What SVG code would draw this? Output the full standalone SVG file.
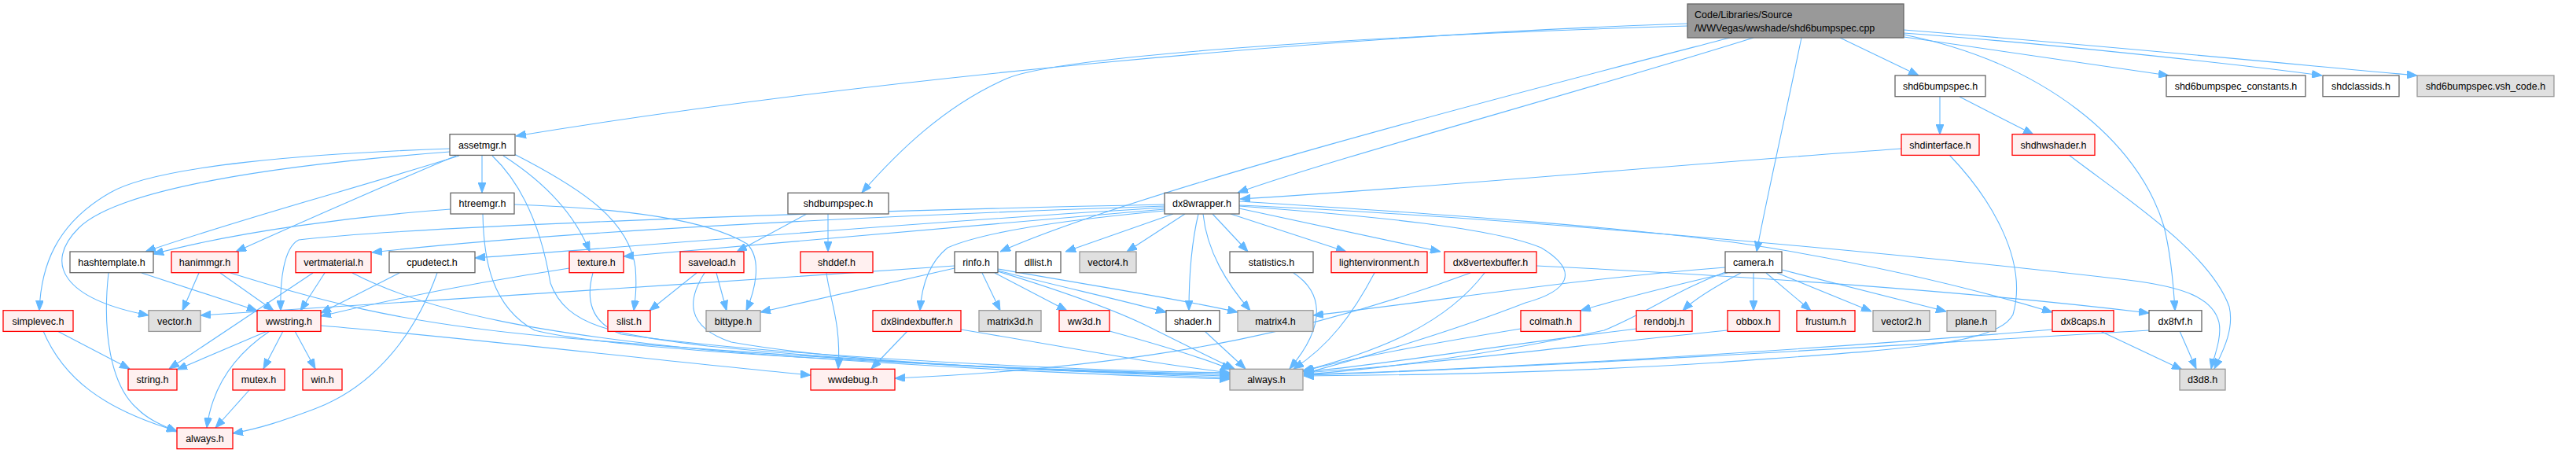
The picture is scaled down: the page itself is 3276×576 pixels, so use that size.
<svg xmlns="http://www.w3.org/2000/svg" width="3276" height="576" viewBox="0 0 3276 576">
<defs>
<marker id="a" markerWidth="13" markerHeight="10" refX="13" refY="5" orient="auto" markerUnits="userSpaceOnUse"><path d="M0,0 L13,5 L0,10 z" fill="#63b8ff" stroke="#63b8ff" stroke-width="1"/></marker>
<style>
rect{stroke-width:1.3}
.w rect{fill:#fff;stroke:#666}
.g rect{fill:#e0e0e0;stroke:#999}
.r rect{fill:#fff0f0;stroke:#f00}
.m rect{fill:#999;stroke:#666}
text{font-family:"Liberation Sans",Arial,sans-serif;font-size:12.5px;fill:#000;text-anchor:middle}
.m text{text-anchor:start}
#edges path{fill:none;stroke:#63b8ff;stroke-width:1.1;marker-end:url(#a)}
</style>
</defs>
<rect width="3276" height="576" fill="#fff"/>
<g id="edges">
<path d="M2146,30 C1700,45 1100,100 656,173"/>
<path d="M2146,33 C1750,45 1350,70 1280,100 C1200,135 1140,195 1096,245"/>
<path d="M2200,48 C2000,100 1450,240 1272,320"/>
<path d="M2230,48 C2000,120 1700,200 1574,245"/>
<path d="M2291,48 C2270,150 2245,260 2234,320"/>
<path d="M2340,48 L2440,96"/>
<path d="M2421,47 C2550,65 2680,85 2758,96"/>
<path d="M2421,42 C2600,55 2850,82 2953,96"/>
<path d="M2421,38 C2700,60 2950,85 3074,96"/>
<path d="M2421,44 C2600,80 2720,180 2752,288 C2760,320 2764,360 2766,395"/>
<path d="M2467,123 L2467,171"/>
<path d="M2492,123 L2586,171"/>
<path d="M2418,189 C2100,212 1800,240 1577,253"/>
<path d="M2479,197 C2530,250 2580,330 2560,400 C2540,440 2400,445 2184,461 C2000,473 1800,477 1658,478"/>
<path d="M2631,197 C2700,250 2810,320 2835,390 C2842,420 2825,450 2816,469"/>
<path d="M613,197 L613,245"/>
<path d="M572,189 C400,195 200,210 140,245 C70,285 52,340 50,395"/>
<path d="M572,193 C350,210 150,240 100,290 C55,335 80,380 189,401"/>
<path d="M584,198 C450,240 300,280 185,320"/>
<path d="M580,198 C480,240 400,275 300,320"/>
<path d="M640,198 C690,230 730,270 750,320"/>
<path d="M654,196 C740,240 800,280 808,340 C810,365 808,380 806,395"/>
<path d="M626,198 C670,240 690,300 700,360 C720,415 780,425 900,440 C1200,470 1450,475 1564,478"/>
<path d="M573,266 C450,275 300,295 195,323"/>
<path d="M614,272 C615,330 625,390 680,420 C800,450 1300,470 1564,476"/>
<path d="M654,260 C800,265 900,280 950,310 C970,330 960,370 949,395"/>
<path d="M1026,272 L937,320"/>
<path d="M1053,272 L1053,320"/>
<path d="M180,347 L327,395"/>
<path d="M138,347 C130,420 140,490 175,520 C190,535 210,542 225,549"/>
<path d="M253,347 L232,395"/>
<path d="M280,347 L348,395"/>
<path d="M293,347 C400,380 500,410 700,428 C1000,455 1400,475 1564,480"/>
<path d="M398,347 L215,469"/>
<path d="M413,347 L382,395"/>
<path d="M448,347 C550,400 700,425 900,445 C1200,470 1450,478 1564,482"/>
<path d="M508,347 L408,398"/>
<path d="M556,347 C530,420 480,490 400,520 C360,535 330,545 296,551"/>
<path d="M724,341 C600,360 500,380 408,402"/>
<path d="M754,347 C745,380 750,410 790,425 C1000,455 1400,472 1564,474"/>
<path d="M886,347 L826,395"/>
<path d="M911,347 L924,395"/>
<path d="M896,347 C875,380 870,415 930,435 C1100,465 1400,474 1564,476"/>
<path d="M1051,347 C1055,380 1070,410 1066,469"/>
<path d="M73,421 L165,469"/>
<path d="M55,421 C80,480 130,520 225,548"/>
<path d="M340,421 L225,470"/>
<path d="M343,421 C300,450 270,490 263,544"/>
<path d="M360,421 L335,469"/>
<path d="M375,421 L401,469"/>
<path d="M408,414 C600,430 850,460 1031,477"/>
<path d="M317,496 L274,544"/>
<path d="M1481,262 C1100,275 700,295 473,321"/>
<path d="M1481,264 C1200,280 850,310 604,328"/>
<path d="M1481,266 C1250,285 1000,310 793,326"/>
<path d="M1481,260 C1000,270 500,290 380,305 C360,315 356,360 357,395"/>
<path d="M1481,268 C1350,280 1250,295 1205,315 C1180,335 1172,365 1170,395"/>
<path d="M1492,272 L1355,320"/>
<path d="M1507,272 L1433,320"/>
<path d="M1524,272 C1515,310 1512,350 1512,395"/>
<path d="M1530,272 C1535,320 1560,360 1590,395"/>
<path d="M1542,272 L1587,320"/>
<path d="M1565,272 L1712,320"/>
<path d="M1576,265 L1832,320"/>
<path d="M1576,256 C1800,270 2100,290 2250,315 C2400,340 2520,370 2610,397"/>
<path d="M1576,261 C1900,275 2400,320 2706,356 C2780,365 2815,380 2822,410 C2826,430 2815,455 2812,469"/>
<path d="M1576,262 C1750,275 1900,290 1960,315 C2010,345 1995,370 1940,385 C1850,420 1750,450 1658,475"/>
<path d="M1214,338 C900,360 500,385 255,401"/>
<path d="M1214,341 L967,397"/>
<path d="M1249,347 L1272,395"/>
<path d="M1265,347 L1357,395"/>
<path d="M1269,344 C1350,365 1420,380 1483,397"/>
<path d="M1269,342 C1400,365 1500,380 1574,397"/>
<path d="M1269,345 C1350,370 1420,395 1460,415 C1500,435 1540,455 1570,469"/>
<path d="M1154,421 L1108,469"/>
<path d="M1222,419 C1350,440 1450,460 1564,474"/>
<path d="M1411,421 C1480,440 1530,455 1566,470"/>
<path d="M1532,421 L1584,469"/>
<path d="M1645,347 C1680,370 1690,410 1640,469"/>
<path d="M1748,347 C1720,400 1690,440 1645,469"/>
<path d="M1888,347 C1840,410 1760,445 1656,472"/>
<path d="M1870,347 C1700,410 1500,465 1138,481"/>
<path d="M1954,338 C2200,350 2500,370 2733,398"/>
<path d="M2194,340 C2000,355 1850,380 1670,401"/>
<path d="M2197,347 C2120,365 2060,380 2010,395"/>
<path d="M2214,347 C2180,365 2155,380 2140,395"/>
<path d="M2194,346 C2130,370 2100,395 2040,420 C1900,450 1750,470 1658,476"/>
<path d="M2230,347 L2230,395"/>
<path d="M2246,347 L2303,395"/>
<path d="M2260,347 L2380,396"/>
<path d="M2266,343 L2475,396"/>
<path d="M1934,418 C1800,440 1700,460 1658,472"/>
<path d="M2081,418 C1900,440 1750,465 1658,473"/>
<path d="M2197,420 C2000,440 1800,465 1658,474"/>
<path d="M2610,419 C2300,445 1900,470 1658,476"/>
<path d="M2671,421 L2775,470"/>
<path d="M2772,421 L2793,469"/>
<path d="M2733,420 C2400,440 1900,470 1658,477"/>
</g>
<g id="n_main" class="m"><rect x="2146" y="5" width="275" height="43"/><text x="2155" y="23">Code/Libraries/Source</text><text x="2155" y="40">/WWVegas/wwshade/shd6bumpspec.cpp</text></g>
<g id="n_shd6bumpspec_h" class="w"><rect x="2410" y="96" width="115" height="26.7"/><text x="2467.5" y="114">shd6bumpspec.h</text></g>
<g id="n_constants" class="w"><rect x="2755" y="96" width="177" height="26.7"/><text x="2843.5" y="114">shd6bumpspec_constants.h</text></g>
<g id="n_shdclassids" class="w"><rect x="2954" y="96" width="97" height="26.7"/><text x="3002.5" y="114">shdclassids.h</text></g>
<g id="n_vsh_code" class="g"><rect x="3074" y="96" width="174" height="26.7"/><text x="3161" y="114">shd6bumpspec.vsh_code.h</text></g>
<g id="n_assetmgr" class="w"><rect x="572" y="170.7" width="83" height="26.7"/><text x="613.5" y="188.7">assetmgr.h</text></g>
<g id="n_shdinterface" class="r"><rect x="2418" y="170.7" width="99" height="26.7"/><text x="2467.5" y="188.7">shdinterface.h</text></g>
<g id="n_shdhwshader" class="r"><rect x="2559" y="170.7" width="105" height="26.7"/><text x="2611.5" y="188.7">shdhwshader.h</text></g>
<g id="n_htreemgr" class="w"><rect x="573" y="245.3" width="81" height="26.7"/><text x="613.5" y="263.3">htreemgr.h</text></g>
<g id="n_shdbumpspec" class="w"><rect x="1002" y="245.3" width="128" height="26.7"/><text x="1066" y="263.3">shdbumpspec.h</text></g>
<g id="n_dx8wrapper" class="w"><rect x="1481" y="245.3" width="95" height="26.7"/><text x="1528.5" y="263.3">dx8wrapper.h</text></g>
<g id="n_hashtemplate" class="w"><rect x="89" y="320" width="106" height="26.7"/><text x="142" y="338">hashtemplate.h</text></g>
<g id="n_hanimmgr" class="r"><rect x="218" y="320" width="85" height="26.7"/><text x="260.5" y="338">hanimmgr.h</text></g>
<g id="n_vertmaterial" class="r"><rect x="376" y="320" width="96" height="26.7"/><text x="424" y="338">vertmaterial.h</text></g>
<g id="n_cpudetect" class="w"><rect x="495" y="320" width="109" height="26.7"/><text x="549.5" y="338">cpudetect.h</text></g>
<g id="n_texture" class="r"><rect x="724" y="320" width="69" height="26.7"/><text x="758.5" y="338">texture.h</text></g>
<g id="n_saveload" class="r"><rect x="865" y="320" width="81" height="26.7"/><text x="905.5" y="338">saveload.h</text></g>
<g id="n_shddef" class="r"><rect x="1018" y="320" width="92" height="26.7"/><text x="1064" y="338">shddef.h</text></g>
<g id="n_rinfo" class="w"><rect x="1214" y="320" width="55" height="26.7"/><text x="1241.5" y="338">rinfo.h</text></g>
<g id="n_dllist" class="w"><rect x="1292" y="320" width="57" height="26.7"/><text x="1320.5" y="338">dllist.h</text></g>
<g id="n_vector4" class="g"><rect x="1373" y="320" width="72" height="26.7"/><text x="1409" y="338">vector4.h</text></g>
<g id="n_statistics" class="w"><rect x="1564" y="320" width="106" height="26.7"/><text x="1617" y="338">statistics.h</text></g>
<g id="n_lightenvironment" class="r"><rect x="1693" y="320" width="122" height="26.7"/><text x="1754" y="338">lightenvironment.h</text></g>
<g id="n_dx8vertexbuffer" class="r"><rect x="1837" y="320" width="117" height="26.7"/><text x="1895.5" y="338">dx8vertexbuffer.h</text></g>
<g id="n_camera" class="w"><rect x="2194" y="320" width="72" height="26.7"/><text x="2230" y="338">camera.h</text></g>
<g id="n_simplevec" class="r"><rect x="4" y="394.7" width="89" height="26.7"/><text x="48.5" y="412.7">simplevec.h</text></g>
<g id="n_vector" class="g"><rect x="189" y="394.7" width="66" height="26.7"/><text x="222" y="412.7">vector.h</text></g>
<g id="n_wwstring" class="r"><rect x="327" y="394.7" width="81" height="26.7"/><text x="367.5" y="412.7">wwstring.h</text></g>
<g id="n_slist" class="r"><rect x="773" y="394.7" width="54" height="26.7"/><text x="800" y="412.7">slist.h</text></g>
<g id="n_bittype" class="g"><rect x="898" y="394.7" width="69" height="26.7"/><text x="932.5" y="412.7">bittype.h</text></g>
<g id="n_dx8indexbuffer" class="r"><rect x="1110" y="394.7" width="112" height="26.7"/><text x="1166" y="412.7">dx8indexbuffer.h</text></g>
<g id="n_matrix3d" class="g"><rect x="1245" y="394.7" width="79" height="26.7"/><text x="1284.5" y="412.7">matrix3d.h</text></g>
<g id="n_ww3d" class="r"><rect x="1347" y="394.7" width="64" height="26.7"/><text x="1379" y="412.7">ww3d.h</text></g>
<g id="n_shader" class="w"><rect x="1483" y="394.7" width="68" height="26.7"/><text x="1517" y="412.7">shader.h</text></g>
<g id="n_matrix4" class="g"><rect x="1574" y="394.7" width="96" height="26.7"/><text x="1622" y="412.7">matrix4.h</text></g>
<g id="n_colmath" class="r"><rect x="1934" y="394.7" width="76" height="26.7"/><text x="1972" y="412.7">colmath.h</text></g>
<g id="n_rendobj" class="r"><rect x="2081" y="394.7" width="71" height="26.7"/><text x="2116.5" y="412.7">rendobj.h</text></g>
<g id="n_obbox" class="r"><rect x="2197" y="394.7" width="66" height="26.7"/><text x="2230" y="412.7">obbox.h</text></g>
<g id="n_frustum" class="r"><rect x="2285" y="394.7" width="74" height="26.7"/><text x="2322" y="412.7">frustum.h</text></g>
<g id="n_vector2" class="g"><rect x="2382" y="394.7" width="72" height="26.7"/><text x="2418" y="412.7">vector2.h</text></g>
<g id="n_plane" class="g"><rect x="2476" y="394.7" width="62" height="26.7"/><text x="2507" y="412.7">plane.h</text></g>
<g id="n_dx8caps" class="r"><rect x="2610" y="394.7" width="78" height="26.7"/><text x="2649" y="412.7">dx8caps.h</text></g>
<g id="n_dx8fvf" class="w"><rect x="2733" y="394.7" width="67" height="26.7"/><text x="2766.5" y="412.7">dx8fvf.h</text></g>
<g id="n_string" class="r"><rect x="163" y="469.3" width="62" height="26.7"/><text x="194" y="487.3">string.h</text></g>
<g id="n_mutex" class="r"><rect x="296" y="469.3" width="66" height="26.7"/><text x="329" y="487.3">mutex.h</text></g>
<g id="n_win" class="r"><rect x="385" y="469.3" width="50" height="26.7"/><text x="410" y="487.3">win.h</text></g>
<g id="n_wwdebug" class="r"><rect x="1031" y="469.3" width="107" height="26.7"/><text x="1084.5" y="487.3">wwdebug.h</text></g>
<g id="n_always_gray" class="g"><rect x="1564" y="469.3" width="93" height="26.7"/><text x="1610.5" y="487.3">always.h</text></g>
<g id="n_d3d8" class="g"><rect x="2772" y="469.3" width="58" height="26.7"/><text x="2801" y="487.3">d3d8.h</text></g>
<g id="n_always_red" class="r"><rect x="225" y="544" width="71" height="26.7"/><text x="260.5" y="562">always.h</text></g>
</svg>
